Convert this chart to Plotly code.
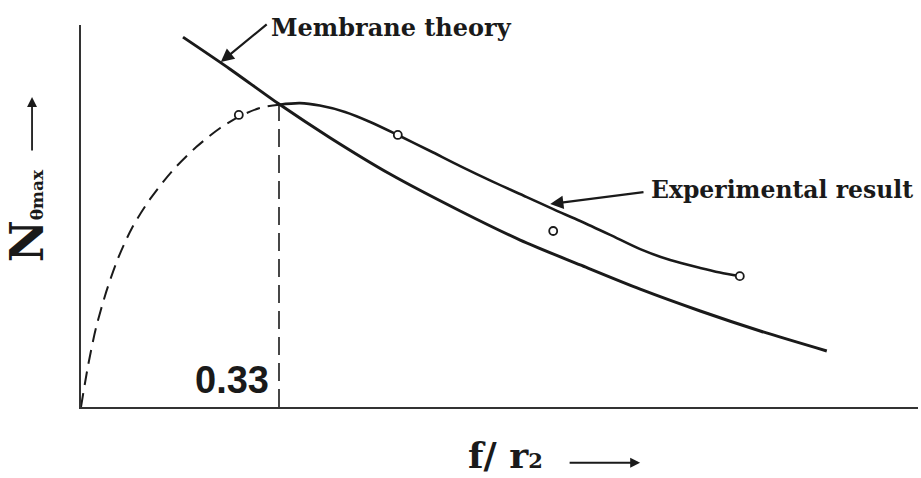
import plotly.graph_objects as go

# Membrane theory curve (f/r2, relative N)
membrane_x = [0.170, 0.248, 0.330, 0.415, 0.515, 0.632, 0.732, 0.832, 0.932, 1.032, 1.132, 1.243]
membrane_y = [1.221, 1.116, 1.000, 0.889, 0.769, 0.647, 0.551, 0.469, 0.389, 0.317, 0.251, 0.185]

# Experimental result: measured branch (solid)
exp_x = [0.330, 0.365, 0.398, 0.440, 0.482, 0.528, 0.582, 0.632, 0.687, 0.743,
         0.787, 0.832, 0.882, 0.932, 0.982, 1.032, 1.065, 1.098]
exp_y = [0.998, 1.003, 0.995, 0.974, 0.941, 0.898, 0.845, 0.795, 0.743, 0.693,
         0.653, 0.614, 0.568, 0.521, 0.485, 0.459, 0.444, 0.432]

# Experimental result: extrapolated branch toward the origin (dashed)
ext_x = [0.0, 0.012, 0.025, 0.042, 0.062, 0.085, 0.115, 0.152, 0.192, 0.232, 0.265, 0.298, 0.330]
ext_y = [0.0, 0.139, 0.261, 0.380, 0.492, 0.591, 0.686, 0.779, 0.858, 0.921, 0.960, 0.987, 0.998]

# Test points
pts_x = [0.263, 0.528, 0.787, 1.098]
pts_y = [0.964, 0.898, 0.581, 0.432]

# Critical ratio
crit_x = 0.33
crit_label = "0.33"

INK = "#1a1a1a"
SERIF = "DejaVu Serif"

fig = go.Figure()

fig.add_trace(go.Scatter(
    x=ext_x, y=ext_y, mode="lines",
    line=dict(color=INK, width=2, dash="14px,8px", shape="spline", smoothing=0.8),
    hoverinfo="skip"))

fig.add_trace(go.Scatter(
    x=[crit_x, crit_x], y=[0, exp_y[0]], mode="lines",
    line=dict(color=INK, width=1.6, dash="18px,8px"),
    hoverinfo="skip"))

fig.add_trace(go.Scatter(
    x=membrane_x, y=membrane_y, mode="lines", name="Membrane theory",
    line=dict(color=INK, width=3, shape="spline", smoothing=0.8)))

fig.add_trace(go.Scatter(
    x=exp_x, y=exp_y, mode="lines", name="Experimental result",
    line=dict(color=INK, width=2.6, shape="spline", smoothing=0.8)))

fig.add_trace(go.Scatter(
    x=pts_x, y=pts_y, mode="markers",
    marker=dict(symbol="circle", size=8, color="white",
                line=dict(color=INK, width=1.8)),
    hoverinfo="skip"))

annotations = [
    # curve labels
    dict(x=0.313, y=1.261, xref="x", yref="y", text="<b>Membrane theory</b>",
         showarrow=False, xanchor="left", yanchor="middle", yshift=-2,
         font=dict(family=SERIF, size=24, color=INK)),
    dict(x=0.233, y=1.139, ax=0.312, ay=1.267, xref="x", yref="y",
         axref="x", ayref="y", text="", showarrow=True,
         arrowhead=2, arrowsize=1.2, arrowwidth=2.2, arrowcolor=INK),
    dict(x=0.947, y=0.716, xref="x", yref="y", text="<b>Experimental result</b>",
         showarrow=False, xanchor="left", yanchor="middle",
         font=dict(family=SERIF, size=23.5, color=INK)),
    dict(x=0.782, y=0.670, ax=0.940, ay=0.710, xref="x", yref="y",
         axref="x", ayref="y", text="", showarrow=True,
         arrowhead=2, arrowsize=1.2, arrowwidth=2.2, arrowcolor=INK),
    # critical value label
    dict(x=crit_x, y=0.0, xref="x", yref="y", text="<b>" + crit_label + "</b>",
         showarrow=False, xanchor="right", yanchor="bottom", xshift=-8, yshift=4,
         font=dict(family="Liberation Sans", size=38, color=INK)),
    # axis direction arrows
    dict(x=-0.0585, y=0.8115, xref="paper", yref="paper", text="",
         ax=0, ay=55, showarrow=True, arrowhead=2, arrowsize=1.1,
         arrowwidth=1.8, arrowcolor=INK),
    dict(x=0.5066, y=-0.145, xref="paper", yref="paper", yshift=-16,
         text="<b>f/ r<span style='font-size:21px'>2</span></b>", showarrow=False,
         font=dict(family=SERIF, size=36, color=INK)),
    dict(x=0.668, y=-0.146, xref="paper", yref="paper", text="",
         ax=-72, ay=0, showarrow=True, arrowhead=2, arrowsize=1.1,
         arrowwidth=1.8, arrowcolor=INK),
]

fig.update_layout(
    width=921, height=478,
    margin=dict(l=81, r=3, t=25, b=71),
    paper_bgcolor="white", plot_bgcolor="white",
    showlegend=False,
    annotations=annotations,
    xaxis=dict(range=[0, 1.395], showgrid=False, zeroline=False,
               showticklabels=False, ticks="", showline=True,
               linecolor="#333333", linewidth=2, fixedrange=True),
    yaxis=dict(range=[0, 1.261], showgrid=False, zeroline=False,
               showticklabels=False, ticks="", showline=True,
               linecolor="#333333", linewidth=2, fixedrange=True,
               title=dict(text="<b>N<span style='font-size:17px'>θmax</span></b>",
                          standoff=24,
                          font=dict(family=SERIF, size=46, color=INK))),
)

fig.write_html("out.html")
